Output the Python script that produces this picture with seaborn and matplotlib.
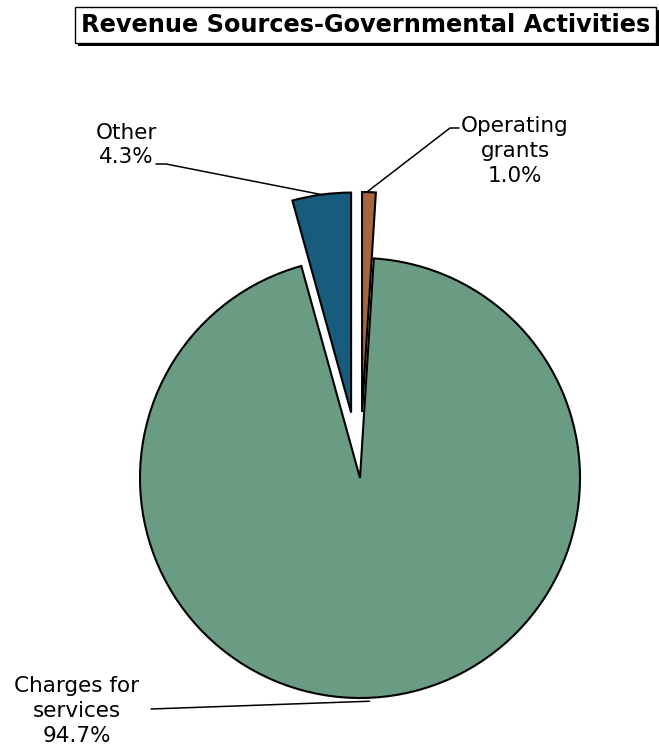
import numpy as np
import matplotlib
matplotlib.use("Agg")
import matplotlib.pyplot as plt
from matplotlib.patches import Rectangle
from matplotlib.transforms import IdentityTransform
import seaborn as sns

labels = ["Operating\ngrants", "Charges for\nservices", "Other"]
shares = [1.0, 94.7, 4.3]
colors = ["#A5663F", "#6A9C83", "#175C7C"]
explode = [0.3, 0.0, 0.3]

W, H = 659, 751
CX, CY, R = 360, 478, 220   # pie centre / radius in pixels


def px(x, y):
    # pixel (from top-left) -> data units of the pie
    return (x - CX) / R, (CY - y) / R


sns.set_style("white")
plt.rcParams["font.family"] = ["DejaVu Sans"]
plt.rcParams["text.color"] = "black"

fig = plt.figure(figsize=(W / 100, H / 100), dpi=100)
ax = fig.add_axes([0, 0, 1, 1])

wedges, _ = ax.pie(shares, explode=explode, colors=sns.color_palette(colors),
                   startangle=90, counterclock=False, radius=1,
                   wedgeprops=dict(edgecolor="black", linewidth=1.5))
ax.set_xlim(-CX / R, (W - CX) / R)
ax.set_ylim(-(H - CY) / R, CY / R)
ax.set_aspect("equal")
ax.axis("off")


def anchor(w, frac=1.0):
    th = np.deg2rad((w.theta1 + w.theta2) / 2)
    cx, cy = w.center
    return cx + w.r * frac * np.cos(th), cy + w.r * frac * np.sin(th)


lab_fs = 15.5
line_kw = dict(color="black", lw=1.1)

# Operating grants
ax.text(*px(515, 151), f"{labels[0]}\n{shares[0]:.1f}%", ha="center", va="center",
        fontsize=lab_fs, linespacing=1.3)
a = anchor(wedges[0])
p1, p2 = px(459, 128), px(450, 128)
ax.plot([p1[0], p2[0], a[0] - 0.01], [p1[1], p2[1], a[1]], **line_kw)

# Other
ax.text(*px(126, 145), f"{labels[2]}\n{shares[2]:.1f}%", ha="center", va="center",
        fontsize=lab_fs, linespacing=1.3)
a = anchor(wedges[2])
p1, p2 = px(156, 164), px(166, 164)
ax.plot([p1[0], p2[0], a[0]], [p1[1], p2[1], a[1]], **line_kw)

# Charges for services
ax.text(*px(77, 711), f"{labels[1]}\n{shares[1]:.1f}%", ha="center", va="center",
        fontsize=lab_fs, linespacing=1.3)
a = anchor(wedges[1])
p1 = px(151, 709)
ax.plot([p1[0], a[0] - 0.06], [p1[1], a[1] - 0.02], **line_kw)

# title in a box with a drop shadow
title = "Revenue Sources-Governmental Activities"
t = fig.text(365.5 / W, 1 - 25 / H, title, ha="center", va="center",
             fontsize=17.3, fontweight="bold", color="black", zorder=5,
             bbox=dict(boxstyle="square,pad=0.25", facecolor="white",
                       edgecolor="black", lw=1))
fig.canvas.draw()
bb = t.get_bbox_patch().get_window_extent()
fig.patches.append(Rectangle((bb.x0 + 3, bb.y0 - 3), bb.width, bb.height,
                             transform=IdentityTransform(), facecolor="black",
                             edgecolor="none", zorder=4))

fig.savefig("out.png", dpi=100, facecolor="white")
